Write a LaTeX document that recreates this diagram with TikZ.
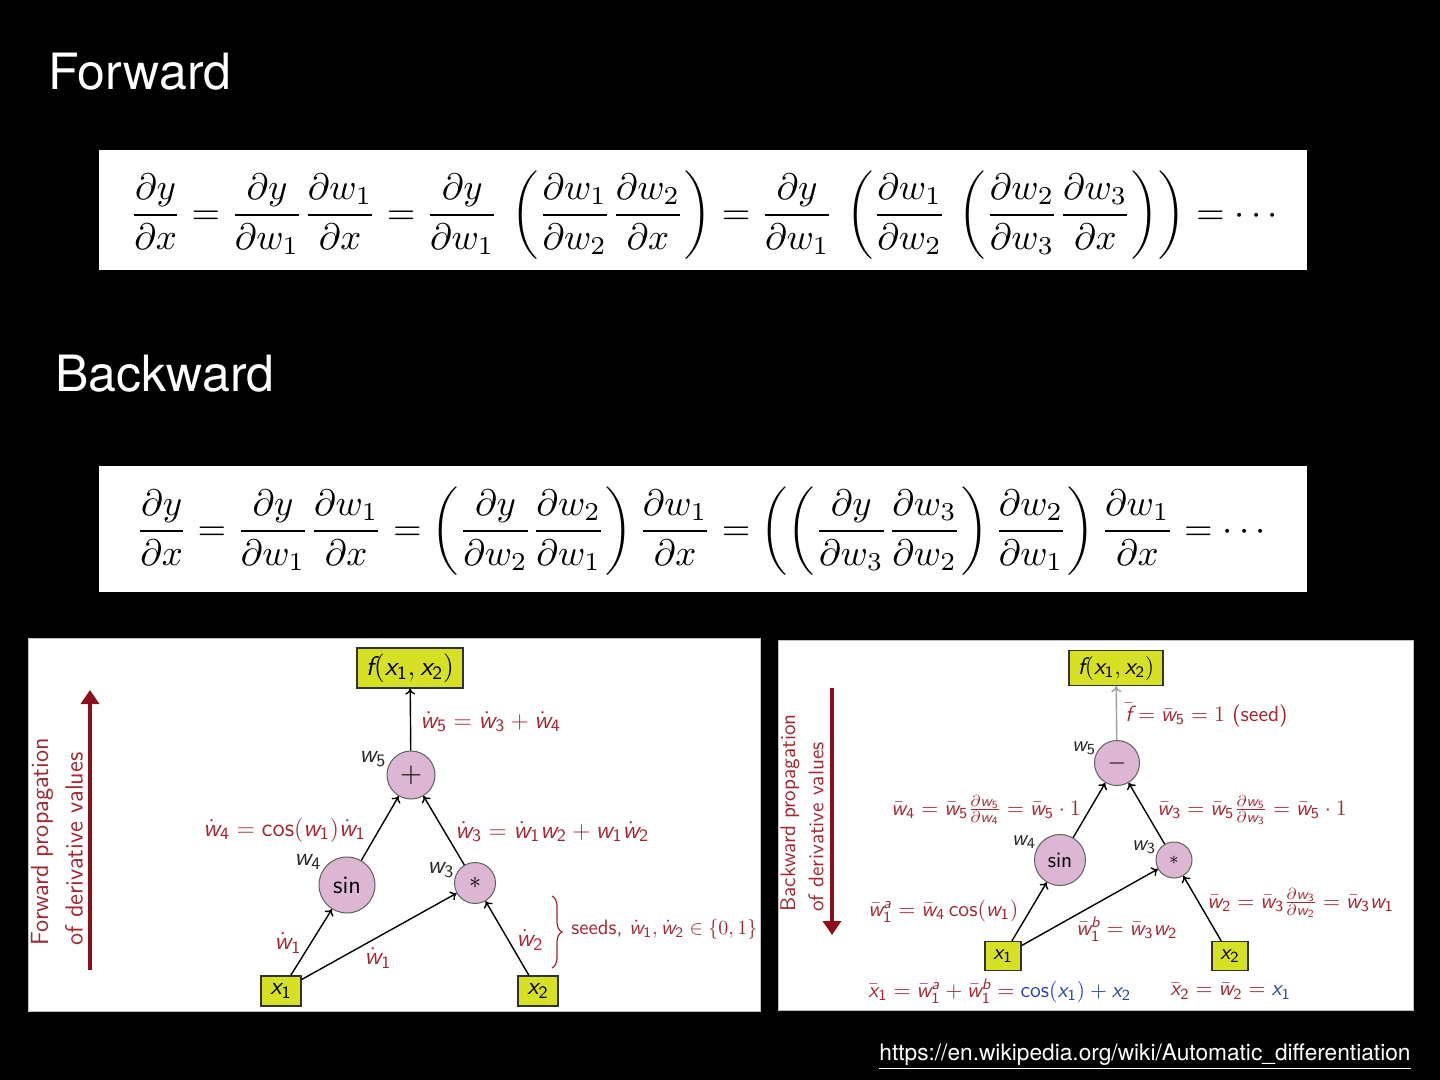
\documentclass[tikz,border=0pt]{standalone}
\usepackage[no-math]{fontspec}
\usepackage{graphicx}
\usepackage{amsmath}
\newfontfamily\helv{TeX Gyre Heros}
\usetikzlibrary{arrows.meta,decorations.pathreplacing}
\newcommand{\sfsl}[1]{\text{\sffamily\itshape #1}}
\newcommand{\sfup}[1]{\text{\sffamily\upshape #1}}
\newcommand{\dW}[1]{\dot{\sfsl{w}}_{\sfup{#1}}}
\newcommand{\bW}[1]{\bar{\sfsl{w}}_{\sfup{#1}}}
\newcommand{\pW}[1]{\sfsl{w}_{\sfup{#1}}}
\newcommand{\pX}[1]{\sfsl{x}_{\sfup{#1}}}
\definecolor{lblred}{RGB}{162,40,50}
\definecolor{arrred}{RGB}{140,16,24}
\definecolor{lblblue}{RGB}{40,70,165}
\definecolor{boxyel}{RGB}{214,224,36}
\definecolor{circpink}{RGB}{220,182,210}
\begin{document}
\begin{tikzpicture}[x=0.5pt,y=-0.5pt,
  title/.style={text=white, font=\helv\fontsize{25}{30}\selectfont, anchor=base west, inner sep=0},
  opnode/.style={circle, fill=circpink, draw=gray!75!black, line width=0.5pt, inner sep=0},
  valbox/.style={fill=boxyel, draw=black!80, line width=0.6pt, inner sep=0},
  lblL/.style={text=lblred, inner sep=0, font=\sffamily\fontsize{12.5}{15}\selectfont},
  lblR/.style={text=lblred, inner sep=0, font=\sffamily\fontsize{11}{13}\selectfont},
  wname/.style={text=black!85, inner sep=0},
  edgearr/.style={-{To[length=3pt,width=5pt]}, line width=0.7pt, draw=black},
  rot/.style={rotate=90, anchor=west, text=lblred, inner sep=0},
  bigarr/.style={draw=arrred, line width=2pt, -{Triangle[length=7pt,width=9pt]}}
]
\useasboundingbox (0,0) rectangle (1440,1080);
\fill[black] (0,0) rectangle (1440,1080);

% titles
\node[title] (tfwd) at (48,90) {Forward};
\node[title] (tbwd) at (55,392) {Backward};

% equations
\fill[white] (99,150) rectangle (1307,270);
\node[inner sep=0] (eqf) at (707,215) {\resizebox{577pt}{!}{$\displaystyle
 \frac{\partial y}{\partial x} = \frac{\partial y}{\partial w_1}\frac{\partial w_1}{\partial x}
 = \frac{\partial y}{\partial w_1}\,\left(\frac{\partial w_1}{\partial w_2}\frac{\partial w_2}{\partial x}\right)
 = \frac{\partial y}{\partial w_1}\,\left(\frac{\partial w_1}{\partial w_2}\,\left(\frac{\partial w_2}{\partial w_3}\frac{\partial w_3}{\partial x}\right)\right) = \cdots$}};

\fill[white] (99,466) rectangle (1307,592);
\node[inner sep=0] (eqb) at (704,531) {\resizebox{568pt}{!}{$\displaystyle
 \frac{\partial y}{\partial x} = \frac{\partial y}{\partial w_1}\frac{\partial w_1}{\partial x}
 = \left(\frac{\partial y}{\partial w_2}\frac{\partial w_2}{\partial w_1}\right)\frac{\partial w_1}{\partial x}
 = \left(\left(\frac{\partial y}{\partial w_3}\frac{\partial w_3}{\partial w_2}\right)\frac{\partial w_2}{\partial w_1}\right)\frac{\partial w_1}{\partial x} = \cdots$}};

% panels
\filldraw[fill=white, draw=gray!50, line width=0.5pt] (28,638) rectangle (760,1011);
\filldraw[fill=white, draw=gray!50, line width=0.5pt] (778,640) rectangle (1413,1010);

% ---------- left (forward) diagram ----------
\node[valbox, minimum width=53pt, minimum height=20pt, font=\sffamily\fontsize{13.5}{16}\selectfont] (Lf) at (410,668) {$\sfsl{f}(\pX1,\pX2)$};
\node[opnode, minimum size=24pt, font=\sffamily\fontsize{14}{16}\selectfont] (Lp) at (411,775) {$+$};
\node[opnode, minimum size=28pt, font=\sffamily\fontsize{12.5}{15}\selectfont] (Ls) at (347,885) {sin};
\node[opnode, minimum size=20.5pt, font=\sffamily\fontsize{12.5}{15}\selectfont] (Lm) at (475,883) {$*$};
\node[valbox, minimum width=20pt, minimum height=15pt, font=\sffamily\fontsize{12.5}{15}\selectfont] (Lx1) at (281,991) {$\pX1$};
\node[valbox, minimum width=20pt, minimum height=15pt, font=\sffamily\fontsize{12.5}{15}\selectfont] (Lx2) at (538,991) {$\pX2$};

\draw[edgearr] (Lp) -- (Lf);
\draw[edgearr] (Ls) -- (Lp);
\draw[edgearr] (Lm) -- (Lp);
\draw[edgearr] (Lx1) -- (Ls);
\draw[edgearr] (Lx1) -- (Lm);
\draw[edgearr] (Lx2) -- (Lm);

\node[lblL, anchor=west] (Ll5) at (420,722) {$\dW5 = \dW3 + \dW4$};
\node[wname, font=\sffamily\fontsize{12.5}{15}\selectfont] (Lw5) at (373,759) {$\pW5$};
\node[lblL, anchor=west] (Ll4) at (203,830) {$\dW4 = \sfup{cos}(\pW1)\dW1$};
\node[lblL, anchor=west] (Ll3) at (455,832) {$\dW3 = \dW1\pW2 + \pW1\dW2$};
\node[wname, font=\sffamily\fontsize{12.5}{15}\selectfont] (Lw4) at (308,862) {$\pW4$};
\node[wname, font=\sffamily\fontsize{12.5}{15}\selectfont] (Lw3) at (441,870) {$\pW3$};
\node[lblL] (Ll1a) at (288,943) {$\dW1$};
\node[lblL] (Ll1b) at (378,958) {$\dW1$};
\node[lblL] (Ll2) at (530,940) {$\dW2$};
\draw[lblred, line width=0.6pt, decorate, decoration={brace, amplitude=5pt}] (552,896) -- (552,968);
\node[lblR, anchor=west, font=\sffamily\fontsize{10.4}{12}\selectfont] (Lseed) at (571,929) {seeds, $\dW1, \dW2 \in \{0,1\}$};

\coordinate (La0) at (90,970);
\coordinate (La1) at (90,690);
\draw[bigarr] (La0) -- (La1);
\node[rot, font=\sffamily\fontsize{12.4}{14}\selectfont] (Lr1) at (42,946) {Forward propagation};
\node[rot, font=\sffamily\fontsize{12.4}{14}\selectfont] (Lr2) at (74,946) {of derivative values};

% ---------- right (backward) diagram ----------
\node[valbox, minimum width=47pt, minimum height=17.5pt, font=\sffamily\fontsize{12}{14}\selectfont] (Rf) at (1116,668) {$\sfsl{f}(\pX1,\pX2)$};
\node[opnode, minimum size=22.5pt, font=\sffamily\fontsize{12}{14}\selectfont] (Rp) at (1117,763) {$-$};
\node[opnode, minimum size=25.5pt, font=\sffamily\fontsize{11}{13}\selectfont] (Rs) at (1060,860) {sin};
\node[opnode, minimum size=18pt, font=\sffamily\fontsize{9}{11}\selectfont] (Rm) at (1174,860) {$*$};
\node[valbox, minimum width=18pt, minimum height=14.5pt, font=\sffamily\fontsize{11}{13}\selectfont] (Rx1) at (1003,956) {$\pX1$};
\node[valbox, minimum width=18pt, minimum height=14.5pt, font=\sffamily\fontsize{11}{13}\selectfont] (Rx2) at (1230,956) {$\pX2$};

\draw[edgearr, draw=gray!75] (Rp) -- (Rf);
\draw[edgearr] (Rs) -- (Rp);
\draw[edgearr] (Rm) -- (Rp);
\draw[edgearr] (Rx1) -- (Rs);
\draw[edgearr] (Rx1) -- (Rm);
\draw[edgearr] (Rx2) -- (Rm);

\node[lblR, anchor=west] (Rl5) at (1125,715) {$\bar{\sfsl{f}} = \bW5 = 1$ (seed)};
\node[wname, font=\sffamily\fontsize{11}{13}\selectfont] (Rw5) at (1084,748) {$\pW5$};
\node[lblR, anchor=west] (Rl4) at (891,810) {$\bW4 = \bW5\frac{\partial\pW5}{\partial\pW4} = \bW5\cdot 1$};
\node[lblR, anchor=west] (Rl3) at (1157,810) {$\bW3 = \bW5\frac{\partial\pW5}{\partial\pW3} = \bW5\cdot 1$};
\node[wname, font=\sffamily\fontsize{11}{13}\selectfont] (Rw4) at (1024,842) {$\pW4$};
\node[wname, font=\sffamily\fontsize{11}{13}\selectfont] (Rw3) at (1144,847) {$\pW3$};
\node[lblR, anchor=west] (Rl1a) at (868,911) {$\bW1^{\sfsl{a}} = \bW4\,\sfup{cos}(\pW1)$};
\node[lblR, anchor=west] (Rl1b) at (1076,929) {$\bW1^{\sfsl{b}} = \bW3\pW2$};
\node[lblR, anchor=west] (Rl2) at (1207,903) {$\bW2 = \bW3\frac{\partial\pW3}{\partial\pW2} = \bW3\pW1$};
\node[lblR, anchor=west] (Rx1s) at (868,991) {$\bar{\sfsl{x}}_{\sfup{1}} = \bW1^{\sfsl{a}} + \bW1^{\sfsl{b}} = {\color{lblblue}\sfup{cos}(\pX1) + \pX2}$};
\node[lblR, anchor=west] (Rx2s) at (1170,991) {$\bar{\sfsl{x}}_{\sfup{2}} = \bW2 = {\color{lblblue}\pX1}$};

\coordinate (Ra0) at (832,688);
\coordinate (Ra1) at (832,935);
\draw[bigarr] (Ra0) -- (Ra1);
\node[rot, font=\sffamily\fontsize{10.6}{13}\selectfont] (Rr1) at (790,912) {Backward propagation};
\node[rot, font=\sffamily\fontsize{10.6}{13}\selectfont] (Rr2) at (816,912) {of derivative values};

% source
\node[anchor=base west, text=white, inner sep=0, font=\helv\fontsize{11.35}{14}\selectfont] (url) at (879,1060) {\underline{https://en.wikipedia.org/wiki/Automatic\_differentiation}};
\end{tikzpicture}
\end{document}
